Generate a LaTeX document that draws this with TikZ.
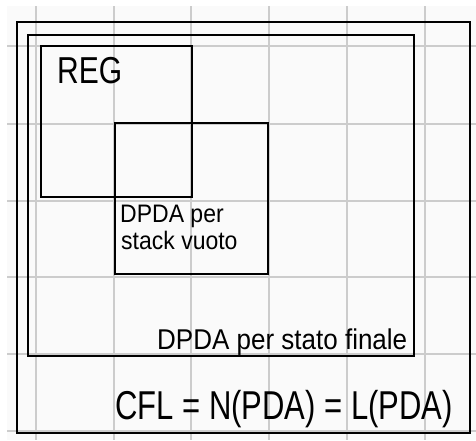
\documentclass[tikz,border=0pt]{standalone}
\usepackage{fontspec}
\usepackage{graphicx}
\setmainfont{Liberation Sans}
\newcommand{\talltext}[2]{\scalebox{1}[#1]{#2}}
\begin{document}
\begin{tikzpicture}[x=1pt,y={(0pt,-1pt)},
  gridline/.style={draw=black!20,line width=1.6pt},
  setbox/.style={draw=black,line width=1.8pt},
  label/.style={anchor=base west,inner sep=0pt,text=black}]
  % page and squared paper
  \fill[white] (0,0) rectangle (476,440);
  \fill[black!2] (7,6) rectangle (476,440);
  \useasboundingbox (0,0) rectangle (476,440);
  \foreach \gx in {36,114,191,269,347,425}
    \draw[gridline] (\gx,6) -- (\gx,440);
  \foreach \gy in {46,124,201,277,354,431}
    \draw[gridline] (7,\gy) -- (476,\gy);
  % nested language classes
  \draw[setbox] (17,22) rectangle (470,433);
  \draw[setbox] (28,35) rectangle (414,356);
  \draw[setbox] (41,46) rectangle (192,197);
  \draw[setbox] (115,123) rectangle (268,274);
  % labels
  \node[label,font=\fontsize{30}{30}\selectfont] (reg) at (57,83) {\talltext{1.25}{REG}};
  \node[label,font=\fontsize{23}{23}\selectfont] (stk1) at (120,222) {\talltext{1.1}{DPDA per}};
  \node[label,font=\fontsize{23}{23}\selectfont] (stk2) at (121,249) {\talltext{1.1}{stack vuoto}};
  \node[label,font=\fontsize{26}{26}\selectfont] (fin) at (157,349) {\talltext{1.1}{DPDA per stato finale}};
  \node[label,font=\fontsize{31}{31}\selectfont] (cfl) at (115,419) {\talltext{1.3}{CFL = N(PDA) = L(PDA)}};
\end{tikzpicture}
\end{document}
